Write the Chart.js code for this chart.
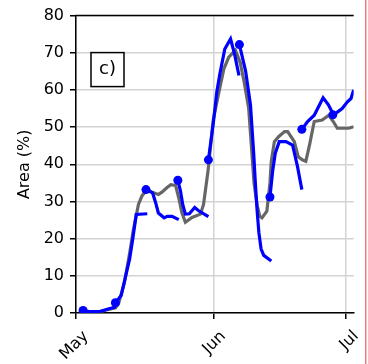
<!DOCTYPE html>
<html><head><meta charset="utf-8">
<script src="https://cdn.jsdelivr.net/npm/chart.js@4.4.1/dist/chart.umd.min.js"></script>
<style>html,body{margin:0;padding:0;background:#fff;}#wrap{width:368px;height:364px;position:relative;}</style>
</head><body><div id="wrap"><canvas id="c" width="368" height="364"></canvas></div>
<script>
// x values are days since 1 May
const tickDays = [0, 31, 61];
const tickLabels = ['May', 'Jun', 'Jul'];
const yTicks = [0, 10, 20, 30, 40, 50, 60, 70, 80];

const observed = [[1.8,0.3],[3.5,0.2],[5.4,0.4],[7.6,1.0],[8.9,1.4],[9.6,2.5],[10.9,8],[12.1,16],[12.9,22],[14.1,29.2],[14.9,31.5],[16.0,33.2],[17.2,32.5],[18.6,31.9],[19.4,32.5],[20.5,33.7],[21.4,34.5],[22.5,34.3],[23.2,31],[23.9,27],[24.7,24.4],[26.2,25.7],[28.1,26.6],[28.8,29.2],[29.8,38.1],[30.4,45],[31.0,52],[32.2,59],[33.4,65.7],[34.5,68.8],[36.0,70.7],[37.1,67.3],[38.0,62],[39.0,55],[39.6,45],[40.2,35],[40.9,29],[41.5,26],[42.0,25.6],[43.1,27.4],[43.8,35],[44.1,40.8],[44.8,46.1],[45.8,47.5],[47.1,48.8],[47.8,48.8],[49.3,46.1],[50.2,42],[51.1,41.2],[51.9,40.8],[52.7,45],[53.8,51.5],[55.6,51.9],[57.1,53.2],[58.1,51.5],[59.0,49.7],[61.6,49.7],[62.7,50.1]];

const fc1 = [[1.6,0.7],[3,0.4],[5.4,0.4],[7.6,1.2],[9.0,1.6]];
const fc2 = [[8.9,2.75],[10.2,4.7],[10.9,8.3],[12.1,14.5],[12.8,19.8],[13.6,26.5],[16.1,26.7]];
const fc3 = [[15.8,33.2],[17.3,32.3],[18.0,29.6],[18.6,26.9],[19.9,25.6],[20.6,26],[21.7,26],[23.2,25.1]];
const fc4 = [[23.0,35.7],[23.6,32.8],[24.1,29.2],[24.7,26.6],[25.6,26.7],[26.8,28.4],[27.7,27.5],[29.9,25.9]];
const fc5 = [[29.9,41.2],[31.0,51],[31.8,59.5],[32.5,64.4],[33.6,71],[34.9,73.7],[35.8,69.7],[36.8,63.9]];
const fc6 = [[36.9,72.2],[38.3,65.1],[39.4,56],[40.1,43.5],[40.5,35],[40.9,27.5],[41.3,21.6],[41.8,17.2],[42.4,15.5],[44.1,14]];
const fc7 = [[43.8,31.2],[44.4,38.1],[45.0,43],[45.9,46.1],[47.4,46.1],[48.9,45.2],[50.0,39.5],[51.0,33.2]];
const fc8 = [[51.0,49.4],[52.3,51.5],[53.8,53.2],[55.8,57.9],[57.0,56],[58.2,53.2]];
const fc9 = [[58.0,53.3],[59.1,54.1],[60.1,55],[61.3,56.8],[62.1,57.7],[62.7,60]];
const forecasts = [fc1, fc2, fc3, fc4, fc5, fc6, fc7, fc8, fc9];

const toXY = a => a.map(p => ({x: p[0], y: p[1]}));
const FONT = 'DejaVu Sans';

const datasets = [{
  data: toXY(observed), borderColor: '#666666', borderWidth: 3.2, pointRadius: 0, tension: 0, order: 10
}];
forecasts.forEach(f => datasets.push({
  data: toXY(f), borderColor: '#0000ff', borderWidth: 3.2, tension: 0, order: 0,
  pointRadius: c => c.dataIndex === 0 ? 4.5 : 0,
  pointBackgroundColor: '#0000ff', pointBorderWidth: 0, pointHoverRadius: 0
}));

const decor = {
  id: 'decor',
  afterDraw(chart) {
    const {ctx, chartArea: a} = chart;
    ctx.save();
    // top spine
    ctx.strokeStyle = '#000'; ctx.lineWidth = 1.5;
    ctx.beginPath(); ctx.moveTo(a.left - 0.75, a.top); ctx.lineTo(a.right, a.top); ctx.stroke();
    // panel label box
    const bx = a.left + 15, by = a.top + 37, bw = 33, bh = 34;
    ctx.fillStyle = '#fff'; ctx.fillRect(bx, by, bw, bh);
    ctx.strokeRect(bx, by, bw, bh);
    ctx.fillStyle = '#000'; ctx.font = '18px "' + FONT + '"';
    ctx.textAlign = 'center'; ctx.textBaseline = 'middle';
    ctx.fillText('c)', bx + bw / 2, by + bh / 2);
    // neighbour panel edge
    ctx.fillStyle = '#f08080'; ctx.fillRect(365, 0, 1.5, 364);
    ctx.restore();
  }
};

new Chart(document.getElementById('c'), {
  type: 'line',
  data: {datasets},
  options: {
    responsive: false, animation: false,
    layout: {padding: {left: 0, right: 11, top: 13, bottom: 0}},
    plugins: {legend: {display: false}, tooltip: {enabled: false}},
    scales: {
      x: {
        type: 'linear', min: 0, max: 62.7,
        afterBuildTicks: s => { s.ticks = tickDays.map(v => ({value: v})); },
        afterFit: s => { s.height = 51; },
        ticks: {
          callback: v => tickLabels[tickDays.indexOf(v)],
          minRotation: 45, maxRotation: 45, autoSkip: false,
          font: {family: FONT, size: 16}, color: '#000', padding: 8, labelOffset: 10
        },
        grid: {color: '#d3d3d3', lineWidth: 1.5, tickColor: '#000', tickLength: 6, tickWidth: 1.5},
        border: {color: '#000', width: 1.5}
      },
      y: {
        min: 0, max: 80,
        afterBuildTicks: s => { s.ticks = yTicks.map(v => ({value: v})); },
        afterFit: s => { s.width = 76; },
        ticks: {font: {family: FONT, size: 16}, color: '#000', padding: 6},
        grid: {color: '#d3d3d3', lineWidth: 1.5, tickColor: '#000', tickLength: 6, tickWidth: 1.5},
        border: {color: '#000', width: 1.5},
        title: {display: true, text: 'Area (%)', font: {family: FONT, size: 16}, color: '#000', padding: {top: 15, bottom: 0}}
      }
    }
  },
  plugins: [decor]
});
</script>
</body></html>
